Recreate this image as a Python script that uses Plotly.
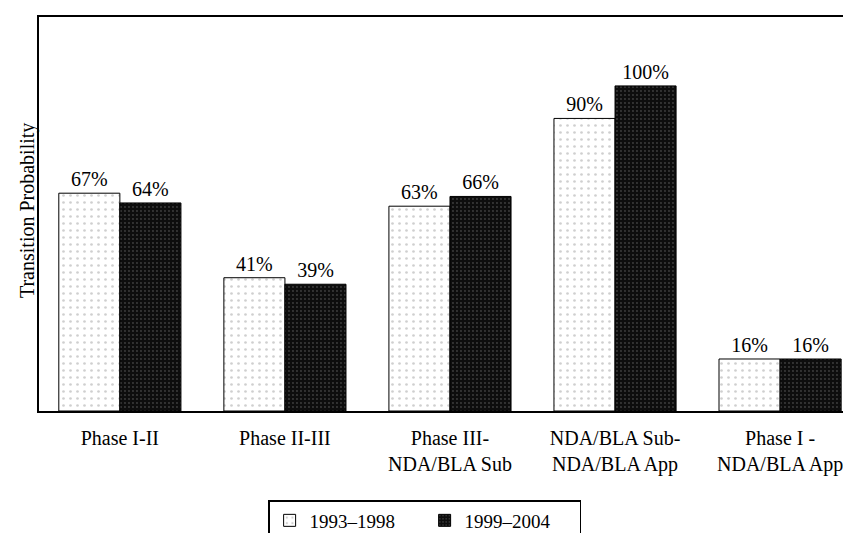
import plotly.graph_objects as go

# Transition probabilities by clinical phase, two periods
categories = [
    "Phase I-II",
    "Phase II-III",
    "Phase III-<br>NDA/BLA Sub",
    "NDA/BLA Sub-<br>NDA/BLA App",
    "Phase I -<br>NDA/BLA App",
]
period_1 = [67, 41, 63, 90, 16]
period_2 = [64, 39, 66, 100, 16]
series_names = ["1993\u20131998", "1999\u20132004"]

FONT = "Liberation Serif, Times New Roman, serif"
FS = 20

fig = go.Figure()

fig.add_trace(
    go.Bar(
        name=series_names[0],
        x=categories,
        y=period_1,
        text=[f"{v}%" for v in period_1],
        textposition="outside",
        cliponaxis=False,
        marker=dict(
            color="white",
            line=dict(color="black", width=1),
            pattern=dict(shape=".", fgcolor="#a0a0a0", bgcolor="white",
                         size=7, solidity=0.12),
        ),
    )
)
fig.add_trace(
    go.Bar(
        name=series_names[1],
        x=categories,
        y=period_2,
        text=[f"{v}%" for v in period_2],
        textposition="outside",
        cliponaxis=False,
        marker=dict(
            color="#0d0d0d",
            line=dict(color="black", width=1),
            pattern=dict(shape=".", fgcolor="#6e6e6e", bgcolor="#0d0d0d",
                         size=4, solidity=0.18),
        ),
    )
)

fig.update_traces(textfont=dict(family=FONT, size=FS, color="black"))

fig.update_layout(
    width=851,
    height=533,
    margin=dict(l=31, r=3, t=9, b=130, autoexpand=False),
    paper_bgcolor="white",
    plot_bgcolor="white",
    barmode="group",
    bargap=0.26,
    bargroupgap=0,
    font=dict(family=FONT, size=FS, color="black"),
    showlegend=True,
    legend=dict(
        orientation="h",
        xref="paper",
        x=0.472,
        xanchor="center",
        yref="container",
        y=0.0,
        yanchor="bottom",
        bordercolor="black",
        borderwidth=1.5,
        bgcolor="white",
        font=dict(family=FONT, size=19),
        entrywidth=110,
        tracegroupgap=0,
    ),
    annotations=[
        dict(
            text="Transition Probability",
            textangle=-90,
            xref="paper",
            yref="paper",
            x=-0.0147,
            y=0.51,
            xanchor="center",
            yanchor="middle",
            showarrow=False,
            font=dict(family=FONT, size=FS),
        )
    ],
)

fig.update_xaxes(
    range=[-0.49, 4.46],
    showline=True,
    linecolor="black",
    linewidth=2,
    mirror=True,
    showgrid=False,
    ticks="",
    ticklabelstandoff=8,
    tickfont=dict(family=FONT, size=FS),
    automargin=False,
)
fig.update_yaxes(
    range=[0, 121.2],
    showline=True,
    linecolor="black",
    linewidth=2,
    mirror=True,
    showgrid=False,
    zeroline=False,
    showticklabels=False,
    ticks="",
    automargin=False,
)

fig.write_html("out.html")
